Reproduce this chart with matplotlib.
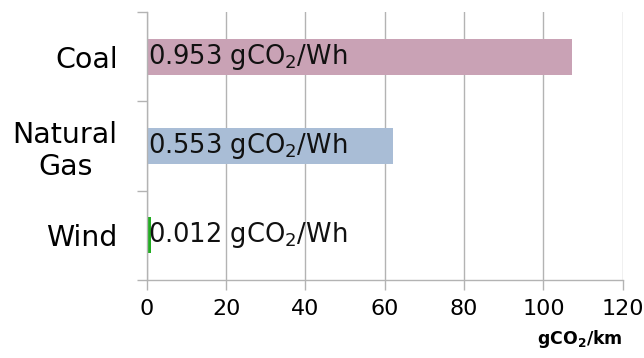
import numpy as np
import matplotlib.pyplot as plt

# データ
categories = ["Wind", "Natural\nGas", "Coal"]
values = [1.0, 62.0, 107.2]
labels = ["0.012 gCO$_2$/Wh", "0.553 gCO$_2$/Wh", "0.953 gCO$_2$/Wh"]
colors = ["#22ad22", "#a9bdd6", "#c9a2b5"]
x_ticks = [0, 20, 40, 60, 80, 100, 120]

grid_color = "#b3b3b3"
plt.rcParams['font.family'] = ['DejaVu Sans']

fig = plt.figure(figsize=(6.44, 3.58), dpi=100)
ax = fig.add_subplot(1, 1, 1)
plt.subplots_adjust(left=0.228, right=0.967, bottom=0.218, top=0.966)

y = np.arange(len(categories))
ax.barh(y, values, height=0.4, color=colors, zorder=2)

for yi, lab in zip(y, labels):
    ax.text(0.2, yi, lab, ha='left', va='center', fontsize=18.5, color='#111111', zorder=3)

ax.set_xlim(0, 120)
ax.set_ylim(-0.5, 2.5)
ax.set_xticks(x_ticks)
ax.set_xticklabels([str(t) for t in x_ticks], fontsize=16)
ax.xaxis.grid(True, color=grid_color, linewidth=1.0, zorder=0)

# y軸: 境界に目盛、中心にラベル
ax.set_yticks([-0.5, 0.5, 1.5, 2.5])
ax.set_yticklabels([])
ax.set_yticks(y, minor=True)
ax.set_yticklabels(categories, minor=True, fontsize=20.5)
plt.setp(ax.get_yticklabels(minor=True), multialignment='center')
ax.tick_params(axis='y', which='minor', length=0, pad=21)
ax.tick_params(axis='y', which='major', length=7, color=grid_color, width=1.0)
ax.tick_params(axis='x', length=7, color=grid_color, width=1.0, pad=7)

for s in ['top', 'right']:
    ax.spines[s].set_visible(False)
for s in ['left', 'bottom']:
    ax.spines[s].set_color(grid_color)
    ax.spines[s].set_linewidth(1.0)

ax.set_xlabel("gCO$_\\mathbf{2}$/km", fontsize=12.5, fontweight='bold', loc='right', labelpad=6)

plt.savefig("out.png", dpi=100)
